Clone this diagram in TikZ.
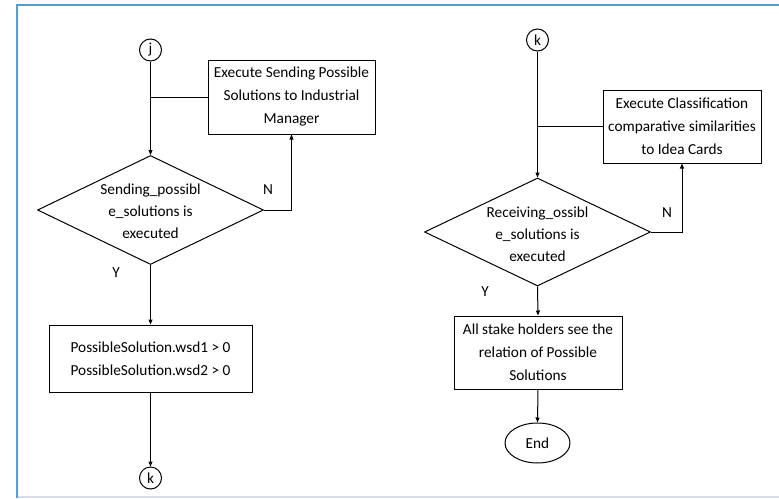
\documentclass[tikz,border=0pt]{standalone}
\usepackage{fontspec}
\setmainfont{Carlito}
\usetikzlibrary{shapes.geometric,arrows.meta}
\definecolor{frameblue}{HTML}{5B9BD5}
\definecolor{framegray}{HTML}{D3DEE8}
\begin{document}
\begin{tikzpicture}[x=1pt,y=-1pt,
 box/.style={draw,line width=1pt,rectangle,align=center,inner sep=0pt},
 dia/.style={draw,diamond,line width=1pt,inner sep=0pt},
 conn/.style={draw,circle,line width=1pt,minimum size=22pt,inner sep=0pt},
 endst/.style={draw,ellipse,line width=1pt,minimum width=65pt,minimum height=40pt,inner sep=0pt},
 dtext/.style={align=center,inner sep=0pt,font=\fontsize{15.3}{22}\selectfont},
 lbl/.style={inner sep=0pt},
 arr/.style={line width=1pt,-{Triangle[length=5pt,width=4pt]}},
 ln/.style={line width=1pt},
 font=\fontsize{15.3}{23}\selectfont]
\useasboundingbox (0,0) rectangle (779,498);
\draw[line width=2pt, frameblue] (17,498) -- (17,5) -- (779,5);
\draw[line width=1.5pt, framegray] (18,497) -- (779,497);

% left flow
\node[conn] (j) at (150.5,50) {j};
\node[box, minimum width=167pt, minimum height=74pt] (b1) at (291.5,97) {Execute Sending Possible\\Solutions to Industrial\\Manager};
\node[dia, minimum width=226pt, minimum height=109pt] (d1) at (150.5,210) {};
\node[dtext] (d1t) at (150.5,211) {Sending\_possibl\\e\_solutions is\\executed};
\node[box, minimum width=203pt, minimum height=67pt] (b2) at (150.5,358.5) {PossibleSolution.wsd1 > 0\\PossibleSolution.wsd2 > 0};
\node[conn] (k1) at (150.5,478) {k};
\node[lbl] (n1) at (268,190) {N};
\node[lbl] (y1) at (116,273) {Y};

\draw[arr] (j) -- (d1.north);
\coordinate (m1) at (j |- b1.west);
\draw[ln] (m1) -- (b1.west);
\draw[arr] (d1.east) -| (b1.south);
\draw[arr] (d1.south) -- (b2.north);
\draw[arr] (b2.south) -- (k1.north);

% right flow
\node[conn] (k2) at (537.5,40) {k};
\node[box, minimum width=158pt, minimum height=73pt] (b3) at (682,126.5) {Execute Classification\\comparative similarities\\to Idea Cards};
\node[dia, minimum width=226pt, minimum height=108pt] (d2) at (537.5,232) {};
\node[dtext] (d2t) at (537.5,234) {Receiving\_ossibl\\e\_solutions is\\executed};
\node[box, minimum width=168pt, minimum height=73pt] (b4) at (538,352.5) {All stake holders see the\\relation of Possible\\Solutions};
\node[endst] (e) at (537.5,443) {End};
\node[lbl] (n2) at (667,213) {N};
\node[lbl] (y2) at (485,292) {Y};

\draw[arr] (k2) -- (d2.north);
\coordinate (m2) at (k2 |- b3.west);
\draw[ln] (m2) -- (b3.west);
\draw[arr] (d2.east) -| (b3.south);
\draw[arr] (d2.south) -- (b4.north);
\draw[arr] (b4.south) -- (e.north);
\end{tikzpicture}
\end{document}
